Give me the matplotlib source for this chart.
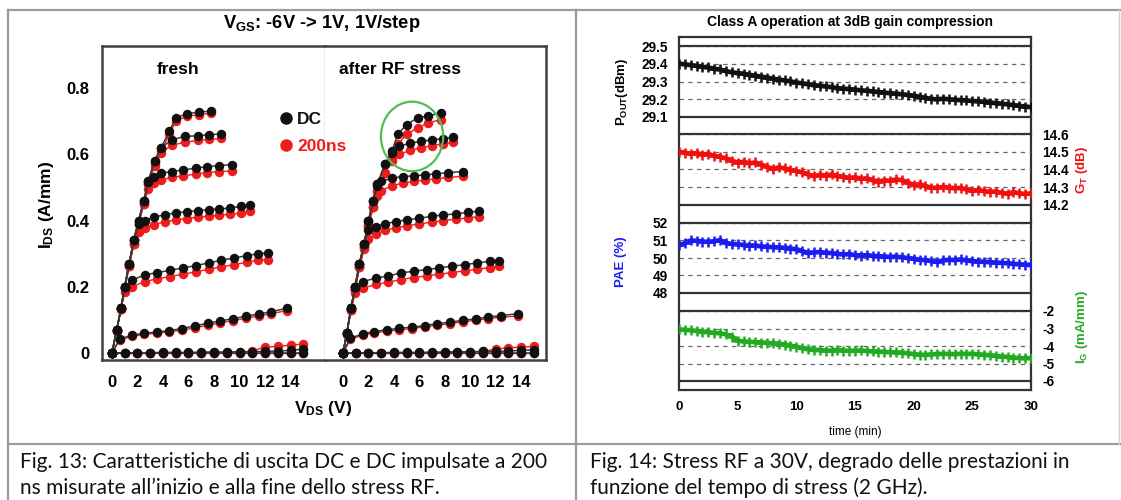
import matplotlib
matplotlib.use("Agg")
import matplotlib.pyplot as plt
from matplotlib.patches import Ellipse
from matplotlib.lines import Line2D

plt.rcParams.update({
    "font.family": "Liberation Sans",
    "font.weight": "bold",
    "axes.unicode_minus": False,
    "mathtext.fontset": "custom",
    "mathtext.rm": "Liberation Sans:bold",
    "mathtext.it": "Liberation Sans:bold",
    "mathtext.bf": "Liberation Sans:bold",
})

# ---------------- output characteristics (Fig. 13) ----------------
# one row per VGS step, from +1 V (top) down to -6 V
vds_fresh = [
    [0, 0.37, 0.71, 1.0, 1.34, 1.71, 2.09, 2.49, 2.86, 3.34, 3.86, 4.5, 5.0, 5.86, 6.86, 7.8],
    [0, 0.37, 0.71, 1.0, 1.34, 1.71, 2.09, 2.49, 2.86, 3.34, 3.86, 4.71, 5.71, 6.71, 7.63, 8.57],
    [0, 0.37, 0.71, 1.0, 1.34, 1.71, 2.09, 2.49, 2.86, 3.29, 3.86, 4.71, 5.57, 6.57, 7.43, 8.43, 9.43],
    [0, 0.37, 0.71, 1.0, 1.34, 1.71, 2.09, 2.57, 3.29, 4.14, 5.0, 5.86, 6.71, 7.57, 8.43, 9.29, 10.14, 10.8],
    [0, 0.37, 0.71, 1.0, 1.57, 2.57, 3.57, 4.57, 5.57, 6.57, 7.57, 8.57, 9.57, 10.57, 11.43, 12.2],
    [0, 0.6, 1.55, 2.5, 3.5, 4.5, 5.5, 6.5, 7.5, 8.5, 9.5, 10.5, 11.5, 12.5, 13.7],
    [0, 1, 2, 3, 4, 5, 6, 7, 8, 9, 10, 11, 12, 13, 14, 15],
    [0, 1, 2, 3, 4, 5, 6, 7, 8, 9, 10, 11, 12, 13, 14, 15],
]
ids_fresh_dc = [
    [0, 0.07, 0.136, 0.20, 0.27, 0.34, 0.40, 0.46, 0.52, 0.58, 0.62, 0.67, 0.71, 0.722, 0.728, 0.73],
    [0, 0.07, 0.136, 0.20, 0.27, 0.34, 0.40, 0.46, 0.52, 0.58, 0.62, 0.644, 0.654, 0.656, 0.659, 0.662],
    [0, 0.07, 0.136, 0.20, 0.27, 0.34, 0.40, 0.46, 0.515, 0.533, 0.543, 0.548, 0.553, 0.558, 0.563, 0.566, 0.569],
    [0, 0.07, 0.136, 0.20, 0.27, 0.34, 0.39, 0.40, 0.41, 0.418, 0.423, 0.427, 0.43, 0.433, 0.435, 0.438, 0.443, 0.448],
    [0, 0.07, 0.136, 0.20, 0.22, 0.236, 0.243, 0.25, 0.257, 0.264, 0.272, 0.28, 0.287, 0.294, 0.30, 0.302],
    [0, 0.042, 0.054, 0.06, 0.063, 0.068, 0.074, 0.082, 0.09, 0.097, 0.104, 0.111, 0.118, 0.125, 0.135],
    [0, 0.001, 0.001, 0.001, 0.002, 0.002, 0.002, 0.003, 0.003, 0.003, 0.004, 0.004, 0.005, 0.006, 0.008, 0.012],
    [0, 0, 0, 0, 0, 0, 0, 0, 0, 0, 0, 0, 0, 0, 0, 0],
]
ids_fresh_200ns = [
    [0, 0.068, 0.132, 0.195, 0.262, 0.33, 0.39, 0.45, 0.51, 0.57, 0.61, 0.66, 0.70, 0.715, 0.72, 0.724],
    [0, 0.068, 0.132, 0.195, 0.262, 0.33, 0.39, 0.45, 0.51, 0.565, 0.605, 0.628, 0.636, 0.642, 0.645, 0.648],
    [0, 0.068, 0.132, 0.195, 0.262, 0.33, 0.39, 0.45, 0.495, 0.513, 0.523, 0.53, 0.535, 0.54, 0.545, 0.548, 0.55],
    [0, 0.068, 0.132, 0.195, 0.262, 0.33, 0.365, 0.378, 0.388, 0.396, 0.402, 0.406, 0.41, 0.413, 0.416, 0.419, 0.423, 0.428],
    [0, 0.068, 0.132, 0.185, 0.20, 0.216, 0.224, 0.231, 0.238, 0.245, 0.253, 0.26, 0.267, 0.274, 0.28, 0.282],
    [0, 0.04, 0.05, 0.056, 0.06, 0.064, 0.069, 0.076, 0.084, 0.091, 0.098, 0.105, 0.112, 0.119, 0.128],
    [0, 0, 0, 0, 0, 0, 0.001, 0.001, 0.002, 0.002, 0.003, 0.006, 0.018, 0.02, 0.024, 0.027],
    [0, 0, 0, 0, 0, 0, 0, 0, 0, 0, 0, 0, 0, 0, 0, 0],
]

vds_stress = [
    [0, 0.29, 0.63, 0.94, 1.29, 1.66, 2.0, 2.37, 2.71, 3.29, 3.86, 4.29, 5.0, 5.86, 6.71, 7.71],
    [0, 0.29, 0.63, 0.94, 1.29, 1.66, 2.0, 2.37, 2.71, 3.29, 3.86, 4.43, 5.29, 6.14, 7.0, 7.86, 8.66],
    [0, 0.29, 0.63, 0.94, 1.29, 1.66, 2.0, 2.37, 2.71, 3.0, 3.86, 4.71, 5.57, 6.43, 7.29, 8.29, 9.43],
    [0, 0.29, 0.63, 0.94, 1.29, 1.66, 2.0, 2.57, 3.29, 4.14, 5.0, 6.0, 7.0, 7.86, 8.86, 9.86, 10.71],
    [0, 0.29, 0.63, 0.94, 1.57, 2.57, 3.57, 4.57, 5.57, 6.57, 7.57, 8.57, 9.57, 10.57, 11.57, 12.29],
    [0, 0.57, 1.57, 2.43, 3.43, 4.43, 5.43, 6.43, 7.43, 8.43, 9.43, 10.43, 11.43, 12.43, 13.8],
    [0, 1, 2, 3, 4, 5, 6, 7, 8, 9, 10, 11, 12, 13, 14, 15],
    [0, 1, 2, 3, 4, 5, 6, 7, 8, 9, 10, 11, 12, 13, 14, 15],
]
ids_stress_dc = [
    [0, 0.06, 0.136, 0.2, 0.27, 0.33, 0.40, 0.46, 0.51, 0.57, 0.61, 0.66, 0.69, 0.71, 0.716, 0.725],
    [0, 0.06, 0.136, 0.2, 0.27, 0.33, 0.40, 0.46, 0.51, 0.57, 0.605, 0.624, 0.634, 0.639, 0.644, 0.647, 0.651],
    [0, 0.06, 0.136, 0.2, 0.27, 0.33, 0.40, 0.46, 0.505, 0.518, 0.528, 0.533, 0.535, 0.538, 0.541, 0.545, 0.548],
    [0, 0.06, 0.136, 0.2, 0.27, 0.33, 0.37, 0.382, 0.39, 0.397, 0.402, 0.407, 0.413, 0.417, 0.42, 0.425, 0.428],
    [0, 0.06, 0.136, 0.2, 0.216, 0.226, 0.233, 0.242, 0.247, 0.252, 0.257, 0.262, 0.267, 0.272, 0.277, 0.279],
    [0, 0.045, 0.058, 0.065, 0.07, 0.075, 0.078, 0.083, 0.089, 0.093, 0.099, 0.103, 0.109, 0.113, 0.119],
    [0, 0.001, 0.001, 0.001, 0.002, 0.002, 0.002, 0.003, 0.003, 0.004, 0.004, 0.005, 0.005, 0.006, 0.008, 0.01],
    [0, 0, 0, 0, 0, 0, 0, 0, 0, 0, 0, 0, 0, 0, 0, 0],
]
ids_stress_200ns = [
    [0, 0.058, 0.13, 0.19, 0.26, 0.32, 0.385, 0.44, 0.49, 0.545, 0.585, 0.63, 0.66, 0.68, 0.695, 0.705],
    [0, 0.058, 0.13, 0.19, 0.26, 0.32, 0.385, 0.44, 0.49, 0.545, 0.58, 0.60, 0.612, 0.62, 0.626, 0.632, 0.636],
    [0, 0.058, 0.13, 0.19, 0.26, 0.32, 0.385, 0.44, 0.475, 0.49, 0.505, 0.513, 0.518, 0.522, 0.526, 0.53, 0.534],
    [0, 0.058, 0.13, 0.19, 0.26, 0.315, 0.345, 0.36, 0.37, 0.378, 0.384, 0.39, 0.395, 0.40, 0.404, 0.408, 0.412],
    [0, 0.058, 0.13, 0.18, 0.196, 0.207, 0.214, 0.222, 0.228, 0.233, 0.238, 0.243, 0.248, 0.253, 0.258, 0.262],
    [0, 0.042, 0.054, 0.061, 0.066, 0.07, 0.074, 0.079, 0.084, 0.089, 0.094, 0.099, 0.104, 0.108, 0.112],
    [0, 0, 0, 0, 0, 0, 0.001, 0.001, 0.002, 0.002, 0.003, 0.005, 0.012, 0.016, 0.018, 0.02],
    [0, 0, 0, 0, 0, 0, 0, 0, 0, 0, 0, 0, 0, 0, 0, 0],
]

vds_ticks = [0, 2, 4, 6, 8, 10, 12, 14]
ids_ticks = [0, 0.2, 0.4, 0.6, 0.8]
ids_tick_labels = ["0", "0.2", "0.4", "0.6", "0.8"]

# ---------------- RF stress vs time (Fig. 14) ----------------
time_min = [0, 0.5, 1, 1.5, 2, 2.5, 3, 3.5, 4, 4.5, 5, 5.5, 6, 6.5, 7, 7.5, 8, 8.5, 9, 9.5,
            10, 10.5, 11, 11.5, 12, 12.5, 13, 13.5, 14, 14.5, 15, 15.5, 16, 16.5, 17, 17.5,
            18, 18.5, 19, 19.5, 20, 20.5, 21, 21.5, 22, 22.5, 23, 23.5, 24, 24.5, 25, 25.5,
            26, 26.5, 27, 27.5, 28, 28.5, 29, 29.5, 30]
pout_dbm = [29.400, 29.397, 29.392, 29.388, 29.382, 29.379, 29.371, 29.368, 29.358, 29.352,
            29.347, 29.344, 29.337, 29.333, 29.327, 29.322, 29.316, 29.311, 29.306, 29.301,
            29.294, 29.290, 29.284, 29.279, 29.276, 29.272, 29.268, 29.262, 29.260, 29.257,
            29.254, 29.250, 29.248, 29.244, 29.241, 29.237, 29.234, 29.231, 29.228, 29.224,
            29.220, 29.214, 29.208, 29.202, 29.199, 29.203, 29.200, 29.197, 29.195, 29.193,
            29.190, 29.188, 29.185, 29.181, 29.178, 29.175, 29.171, 29.167, 29.163, 29.159,
            29.155]
gain_db = [14.500, 14.495, 14.489, 14.492, 14.484, 14.488, 14.476, 14.472, 14.462, 14.450,
           14.438, 14.444, 14.434, 14.440, 14.428, 14.415, 14.402, 14.412, 14.406, 14.398,
           14.392, 14.384, 14.372, 14.362, 14.370, 14.366, 14.372, 14.362, 14.360, 14.352,
           14.356, 14.348, 14.350, 14.340, 14.332, 14.338, 14.336, 14.344, 14.340, 14.326,
           14.312, 14.318, 14.306, 14.298, 14.296, 14.302, 14.298, 14.294, 14.296, 14.288,
           14.280, 14.284, 14.278, 14.274, 14.276, 14.268, 14.264, 14.272, 14.266, 14.262,
           14.266]
pae_pct = [50.72, 50.85, 51.00, 50.98, 50.94, 50.92, 50.96, 51.02, 50.86, 50.80,
           50.78, 50.74, 50.70, 50.72, 50.66, 50.64, 50.62, 50.60, 50.58, 50.54,
           50.50, 50.40, 50.28, 50.32, 50.34, 50.30, 50.28, 50.24, 50.20, 50.22,
           50.17, 50.14, 50.16, 50.12, 50.10, 50.08, 50.06, 50.08, 50.04, 50.00,
           49.96, 49.90, 49.88, 49.82, 49.78, 49.86, 49.90, 49.88, 49.92, 49.86,
           49.82, 49.80, 49.78, 49.76, 49.74, 49.72, 49.70, 49.66, 49.64, 49.62,
           49.60]
ig_ma_mm = [-3.05, -3.08, -3.10, -3.14, -3.18, -3.22, -3.25, -3.27, -3.34, -3.46,
            -3.70, -3.74, -3.76, -3.78, -3.80, -3.82, -3.85, -3.86, -3.92, -3.98,
            -4.04, -4.12, -4.19, -4.22, -4.24, -4.26, -4.27, -4.22, -4.26, -4.28,
            -4.27, -4.25, -4.29, -4.31, -4.32, -4.34, -4.36, -4.37, -4.38, -4.42,
            -4.46, -4.50, -4.51, -4.48, -4.46, -4.45, -4.45, -4.47, -4.44, -4.45,
            -4.45, -4.48, -4.50, -4.53, -4.56, -4.60, -4.63, -4.66, -4.69, -4.70,
            -4.69]
time_ticks = [0, 5, 10, 15, 20, 25, 30]
pout_ticks = [29.1, 29.2, 29.3, 29.4, 29.5]
gain_ticks = [14.2, 14.3, 14.4, 14.5, 14.6]
pae_ticks = [48, 49, 50, 51, 52]
ig_ticks = [-6, -5, -4, -3, -2]

W, H = 1121, 500
fig = plt.figure(figsize=(W / 100, H / 100), dpi=100)


def box(x0, y0, x1, y1):
    # pixel box (top-left origin) -> figure fraction rect
    return [x0 / W, 1 - y1 / H, (x1 - x0) / W, (y1 - y0) / H]


def fx(x):
    return x / W


def fy(y):
    return 1 - y / H


def hline(y, x0, x1, **kw):
    fig.add_artist(Line2D([fx(x0), fx(x1)], [fy(y), fy(y)], transform=fig.transFigure, **kw))


def vline(x, y0, y1, **kw):
    fig.add_artist(Line2D([fx(x), fx(x)], [fy(y0), fy(y1)], transform=fig.transFigure, **kw))


# table frame around the two figures
frame_kw = dict(color="#9c9c9c", lw=1.6)
hline(10, 8, 1121, **frame_kw)
hline(444, 8, 1121, **frame_kw)
vline(8, 10, 500, **frame_kw)
vline(576, 10, 500, **frame_kw)
vline(1119, 10, 444, color="#d0d0d0", lw=1)

# ---- Fig. 13 ----
RED = "#f01c1c"
BLK = "#111111"


def draw_iv(ax, vds, dc, pulsed):
    for v, p in zip(vds, pulsed):
        ax.plot(v, p, color=RED, lw=1, marker="o", ms=6.8, mec="none", zorder=2)
    for v, d in zip(vds, dc):
        ax.plot(v, d, color="#3a3a3a", lw=1.1, marker="o", ms=6.8, mfc=BLK, mec="none", zorder=3)
    ax.set_ylim(-0.021, 0.927)
    ax.set_xticks(vds_ticks)
    ax.tick_params(length=0, labelsize=12, pad=11)


ax_f = fig.add_axes(box(102, 46, 325, 360))
ax_a = fig.add_axes(box(325, 46, 546, 360))
draw_iv(ax_f, vds_fresh, ids_fresh_dc, ids_fresh_200ns)
draw_iv(ax_a, vds_stress, ids_stress_dc, ids_stress_200ns)
ax_f.set_xlim(-0.78, 16.7)
ax_a.set_xlim(-1.42, 15.97)
ax_f.set_yticks(ids_ticks)
ax_f.set_yticklabels(ids_tick_labels)
ax_f.tick_params(axis="y", pad=9)
ax_a.set_yticks([])
for side in ("left", "top", "bottom"):
    ax_f.spines[side].set(lw=1.8, color="#404040")
for side in ("right", "top", "bottom"):
    ax_a.spines[side].set(lw=1.8, color="#404040")
ax_f.spines["right"].set(lw=1, color="#9a9a9a")
ax_a.spines["left"].set_visible(False)

ax_a.add_patch(Ellipse((5.43, 0.654), 4.9, 0.21, fill=False, ec="#55bb55", lw=1.6, zorder=4))

ax_f.text(5.2, 0.855, "fresh", fontsize=12.5, ha="center", va="center")
ax_a.text(4.5, 0.855, "after RF stress", fontsize=12.5, ha="center", va="center")

leg = fig.legend(handles=[Line2D([], [], ls="none", marker="o", color=BLK, ms=8),
                          Line2D([], [], ls="none", marker="o", color=RED, ms=8)],
                 labels=["DC", "200ns"], loc="upper left", bbox_to_anchor=(fx(277), fy(112)),
                 frameon=False, fontsize=12.5, handlelength=1.0, handletextpad=0.15,
                 labelspacing=0.65, borderpad=0, borderaxespad=0)
for t, c in zip(leg.get_texts(), [BLK, RED]):
    t.set_color(c)

fig.text(fx(322), fy(24), r"V$_{\rm GS}$: -6V -> 1V, 1V/step", fontsize=13.2, ha="center", va="center")
fig.text(fx(323), fy(408), r"V$_{\rm DS}$ (V)", fontsize=12.5, ha="center", va="center")
fig.text(fx(47), fy(205), r"I$_{\rm DS}$ (A/mm)", fontsize=12.5, ha="center", va="center", rotation=90)

# ---- Fig. 14 ----
frame = fig.add_axes(box(679, 37, 1031, 390))
frame.set_xlim(0, 30)
frame.set_ylim(0, 1)
frame.set_yticks([])
frame.set_xticks(time_ticks)
frame.tick_params(axis="x", length=0, labelsize=9.5, pad=8)
for s in frame.spines.values():
    s.set(lw=1.6, color="#333333")
frame.set_xlabel("time (min)", fontsize=8.5, labelpad=9)

panels = [
    (46, 117, pout_ticks, pout_dbm, "#111111", "left"),
    (134, 205, gain_ticks, gain_db, "#f01010", "right"),
    (223, 293, pae_ticks, pae_pct, "#1c1cf0", "left"),
    (311, 381, ig_ticks, ig_ma_mm, "#22aa22", "right"),
]
for top, bot, ticks, vals, col, side in panels:
    ax = fig.add_axes(box(679, top, 1031, bot), facecolor="none")
    ax.set_xlim(0, 30)
    ax.set_ylim(ticks[0], ticks[-1])
    ax.set_xticks([])
    ax.set_yticks(ticks)
    ax.set_yticklabels([f"{t:g}" for t in ticks])
    ax.yaxis.set_ticks_position(side)
    ax.tick_params(axis="y", length=0, labelsize=9.8, pad=8)
    ax.yaxis.grid(True, ls=(0, (3.5, 3.5)), color="#666666", lw=0.9)
    ax.spines["left"].set_visible(False)
    ax.spines["right"].set_visible(False)
    ax.spines["top"].set(lw=1.6, color="#333333")
    ax.spines["bottom"].set(lw=1.6, color="#333333")
    ax.plot(time_min, vals, color=col, lw=3.4, marker="+", ms=6.5, mew=1.8, zorder=3)

fig.text(fx(850), fy(22), "Class A operation at 3dB gain compression", fontsize=10, ha="center", va="center")
fig.text(fx(622), fy(92), r"P$_{\rm OUT}$(dBm)", fontsize=9.5, ha="center", va="center", rotation=90)
fig.text(fx(621), fy(262), "PAE (%)", fontsize=9.5, ha="center", va="center", rotation=90, color="#1c1cf0")
fig.text(fx(1082), fy(170), r"G$_{\rm T}$ (dB)", fontsize=9.5, ha="center", va="center", rotation=90, color="#f01010")
fig.text(fx(1082), fy(327), r"I$_{\rm G}$ (mA/mm)", fontsize=9.5, ha="center", va="center", rotation=90, color="#22aa22")

# captions
cap = dict(family="Lato", weight="normal", fontsize=15, ha="left", va="center", color="#111111")
fig.text(fx(20), fy(462), "Fig. 13: Caratteristiche di uscita DC e DC impulsate a 200", **cap)
fig.text(fx(20), fy(488), "ns misurate all\u2019inizio e alla fine dello stress RF.", **cap)
fig.text(fx(590), fy(462), "Fig. 14: Stress RF a 30V, degrado delle prestazioni in", **cap)
fig.text(fx(590), fy(488), "funzione del tempo di stress (2 GHz).", **cap)

fig.savefig("out.png", dpi=100, facecolor="white")
